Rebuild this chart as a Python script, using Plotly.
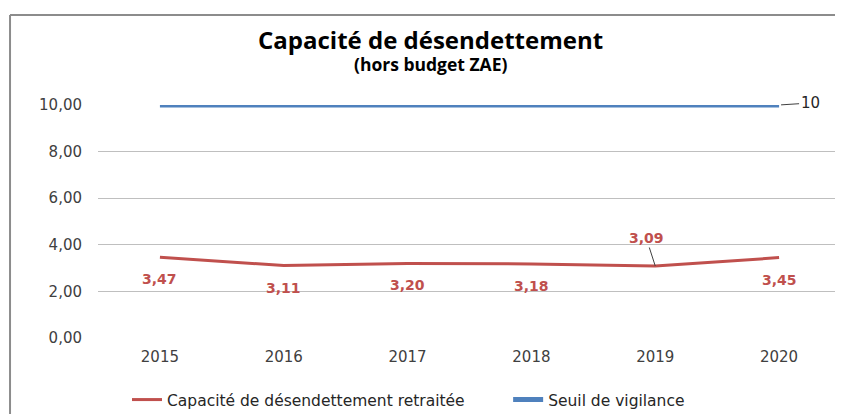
import plotly.graph_objects as go

years = [2015, 2016, 2017, 2018, 2019, 2020]
year_labels = ["2015", "2016", "2017", "2018", "2019", "2020"]
capacite = [3.47, 3.11, 3.20, 3.18, 3.09, 3.45]
seuil = [10, 10, 10, 10, 10, 10]
cap_labels = ["3,47", "3,11", "3,20", "3,18", "3,09", "3,45"]
y_ticks = [0, 2, 4, 6, 8, 10]
y_tick_labels = ["0,00", "2,00", "4,00", "6,00", "8,00", "10,00"]

RED = "#c0504d"
BLUE = "#4f81bd"

fig = go.Figure()
fig.add_trace(go.Scatter(
    x=years, y=capacite, mode="lines", name="Capacité de désendettement retraitée",
    line=dict(color=RED, width=3), cliponaxis=False, legend="legend"))
fig.add_trace(go.Scatter(
    x=years, y=seuil, mode="lines", name="Seuil de vigilance",
    line=dict(color=BLUE, width=5), cliponaxis=False, legend="legend2"))

annotations = []
for yr, v, lab in zip(years, capacite, cap_labels):
    if lab == "3,09":
        annotations.append(dict(x=yr, y=v, xref="x", yref="y", text="<b>" + lab + "</b>",
                                showarrow=True, arrowhead=0, arrowwidth=1, arrowcolor="#404040",
                                ax=-9, ay=-28, standoff=0,
                                font=dict(family="DejaVu Sans", size=14, color=RED)))
    else:
        annotations.append(dict(x=yr, y=v, xref="x", yref="y", text="<b>" + lab + "</b>",
                                showarrow=False, yshift=-22,
                                font=dict(family="DejaVu Sans", size=14, color=RED)))
annotations.append(dict(x=years[-1], y=seuil[-1], xref="x", yref="y", text="10",
                        showarrow=True, arrowhead=0, arrowwidth=1, arrowcolor="#404040",
                        ax=31, ay=-2, standoff=2,
                        font=dict(family="DejaVu Sans", size=15, color="#262626")))
annotations.append(dict(x=0.447, y=1.283, xref="paper", yref="paper",
                        xanchor="center", yanchor="middle",
                        text="<b>Capacité de désendettement</b>", showarrow=False,
                        font=dict(family="Open Sans", size=24, color="black")))
annotations.append(dict(x=0.447, y=1.178, xref="paper", yref="paper",
                        xanchor="center", yanchor="middle",
                        text="<b>(hors budget ZAE)</b>", showarrow=False,
                        font=dict(family="Open Sans", size=17.5, color="black")))

legend_font = dict(family="DejaVu Sans", size=15.5, color="#262626")
fig.update_layout(
    width=835, height=406,
    margin=dict(l=90, r=2, t=97, b=76),
    paper_bgcolor="white", plot_bgcolor="white",
    showlegend=True,
    legend=dict(orientation="h", x=0.039, xanchor="left",
                yref="container", y=0.0345, yanchor="middle",
                font=legend_font, bgcolor="rgba(0,0,0,0)"),
    legend2=dict(orientation="h", x=0.552, xanchor="left",
                 yref="container", y=0.0345, yanchor="middle",
                 font=legend_font, bgcolor="rgba(0,0,0,0)"),
    xaxis=dict(range=[2014.5, 2020.5], tickvals=years, ticktext=year_labels,
               showgrid=False, zeroline=False, showline=False, ticks="",
               ticklabelstandoff=8,
               tickfont=dict(family="DejaVu Sans", size=15, color="#404040")),
    yaxis=dict(range=[0, 10], tickvals=y_ticks, ticktext=y_tick_labels,
               showgrid=True, gridcolor="#bfbfbf", gridwidth=1, zeroline=False,
               showline=False, ticks="", ticklabelstandoff=15,
               tickfont=dict(family="DejaVu Sans", size=15, color="#404040")),
    shapes=[
        dict(type="line", xref="paper", yref="paper", x0=-0.1184, x1=1.01, y0=1.386, y1=1.386,
             line=dict(color="#8c8c8c", width=2)),
        dict(type="line", xref="paper", yref="paper", x0=-0.1184, x1=-0.1184, y0=1.386, y1=-0.4,
             line=dict(color="#8c8c8c", width=2)),
    ],
    annotations=annotations,
)
fig.write_html("out.html")
